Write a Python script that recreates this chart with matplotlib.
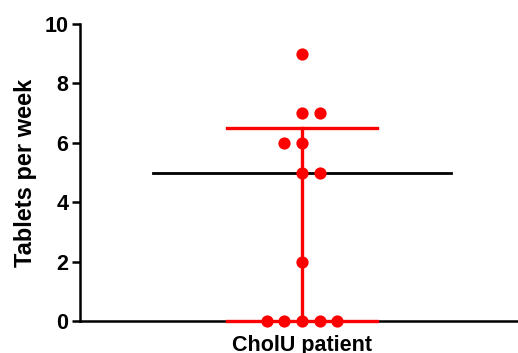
import matplotlib
matplotlib.use("Agg")
import matplotlib.pyplot as plt
import numpy as np

plt.rcParams["font.family"] = ["Liberation Sans", "DejaVu Sans"]
plt.rcParams["font.weight"] = "bold"

group = "CholU patient"
tablets = [9, 7, 7, 6, 6, 5, 5, 2, 0, 0, 0, 0, 0]
# beeswarm offsets (in marker widths) for each point above
swarm = [0, 0, 1, -1, 0, 0, 1, 0, -2, -1, 0, 1, 2]
yticks = [0, 2, 4, 6, 8, 10]

vals = np.array(tablets, dtype=float)
med = np.percentile(vals, 50, method="weibull")
q1, q3 = np.percentile(vals, [25, 75], method="weibull")

fig = plt.figure(figsize=(5.18, 3.53), dpi=100)
ax = fig.add_axes([80 / 518, 32 / 353, 438 / 518, 297 / 353])

ax.plot(swarm, vals, "o", color="red", markersize=8.8, markeredgewidth=0,
        clip_on=False, zorder=4)

# median line and interquartile range
ax.plot([-8.4, 8.4], [med, med], color="black", lw=2.0, zorder=3)
ax.plot([0, 0], [q1, q3], color="red", lw=2.4, zorder=3, clip_on=False)
for q in (q1, q3):
    ax.plot([-4.25, 4.25], [q, q], color="red", lw=2.4, zorder=3, clip_on=False)

ax.set_xlim(-12.55, 12.2)
ax.set_ylim(0, 10)
ax.set_yticks(yticks)
ax.set_xticks([0])
ax.set_xticklabels([group])
ax.tick_params(axis="x", length=0, pad=10, labelsize=15.5)
ax.tick_params(axis="y", length=6, width=1.8, pad=2.5, labelsize=15.5)
ax.set_ylabel("Tablets per week", fontsize=17, fontweight="bold", labelpad=5)

for s in ("top", "right"):
    ax.spines[s].set_visible(False)
for s in ("left", "bottom"):
    ax.spines[s].set_linewidth(1.8)

fig.savefig("out.png", dpi=100)
